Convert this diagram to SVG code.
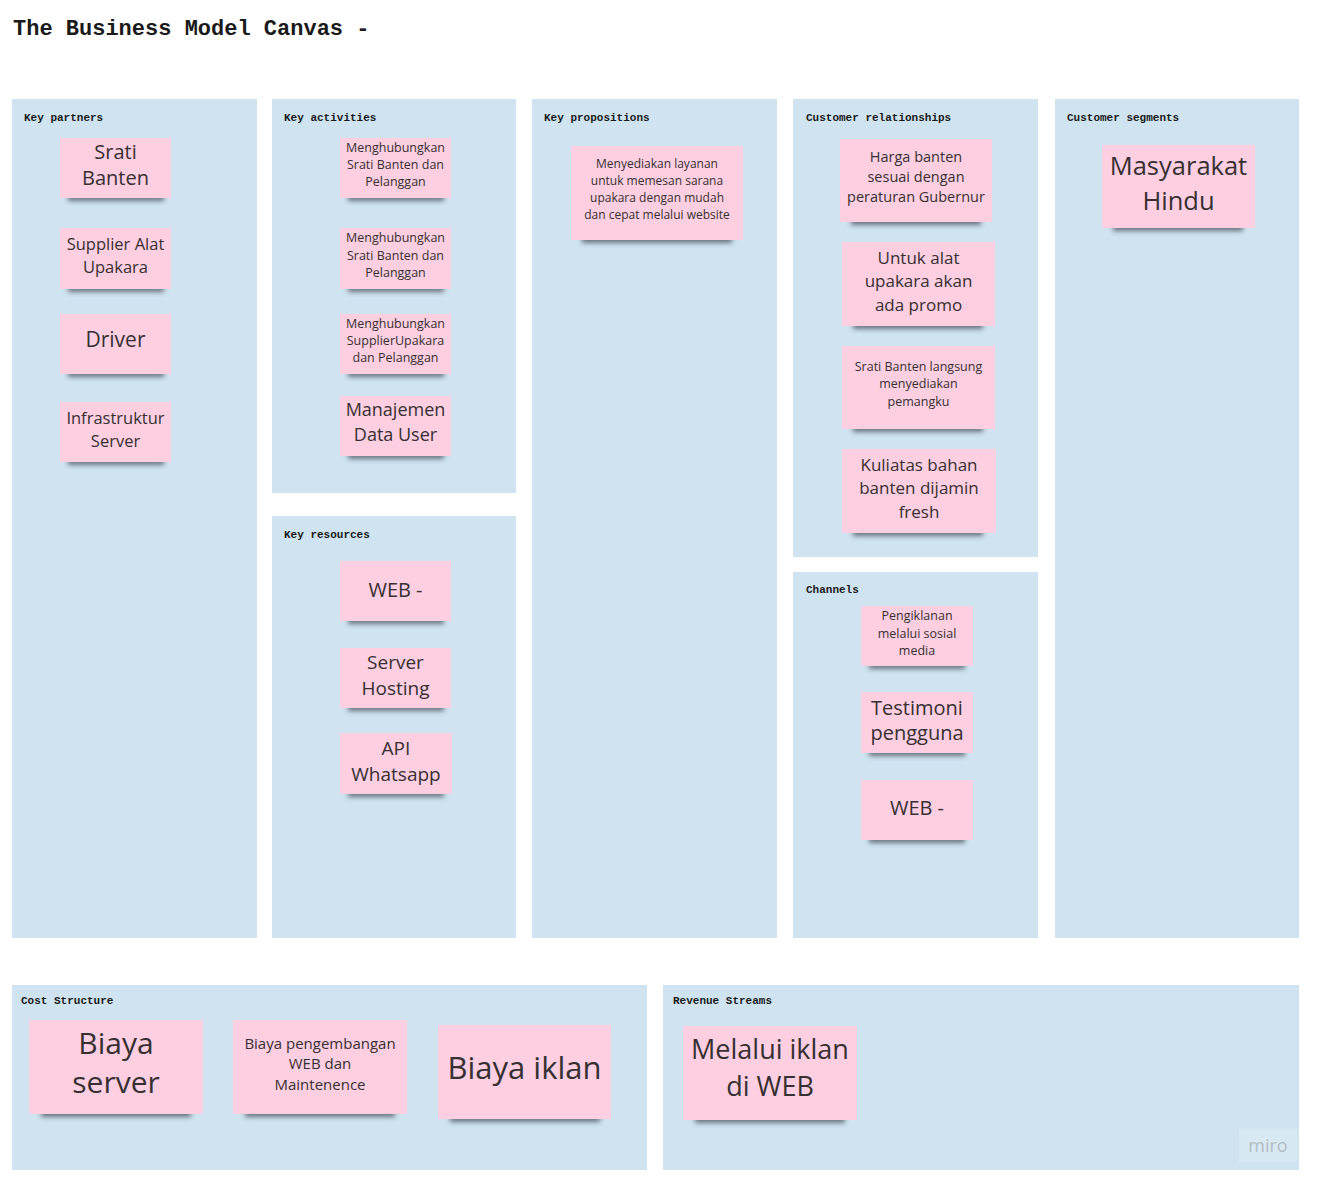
<svg xmlns="http://www.w3.org/2000/svg" width="1321" height="1182" viewBox="0 0 1321 1182">
<defs>
<filter id="sh" x="-20%" y="-200%" width="140%" height="500%"><feGaussianBlur stdDeviation="2.5"/></filter>
<style>
.panel{fill:#cfe4f0}
.lbl{font-family:"Liberation Mono","DejaVu Sans Mono",monospace;font-size:11px;font-weight:bold;fill:#1a1a1a}
.title{font-family:"Liberation Mono","DejaVu Sans Mono",monospace;font-size:22px;font-weight:bold;fill:#1a1a1a}
.note{fill:#fdcfe0}
.shd{fill:#3a4350;opacity:0.7;filter:url(#sh)}
.t{font-family:"Open Sans","Noto Sans",sans-serif;font-weight:400;fill:#353034;text-anchor:middle}
</style>
</defs>
<rect width="1321" height="1182" fill="#ffffff"/>
<text class="title" x="13" y="35">The Business Model Canvas -</text>

<g id="panels">
<g id="key-partners"><rect class="panel" x="12" y="99" width="245" height="839"/><text class="lbl" x="24" y="121">Key partners</text></g>
<g id="key-activities"><rect class="panel" x="272" y="99" width="244" height="394"/><text class="lbl" x="284" y="121">Key activities</text></g>
<g id="key-resources"><rect class="panel" x="272" y="516" width="244" height="422"/><text class="lbl" x="284" y="538">Key resources</text></g>
<g id="key-propositions"><rect class="panel" x="532" y="99" width="245" height="839"/><text class="lbl" x="544" y="121">Key propositions</text></g>
<g id="customer-relationships"><rect class="panel" x="793" y="99" width="245" height="458"/><text class="lbl" x="806" y="121">Customer relationships</text></g>
<g id="channels"><rect class="panel" x="793" y="572" width="245" height="366"/><text class="lbl" x="806" y="593">Channels</text></g>
<g id="customer-segments"><rect class="panel" x="1055" y="99" width="244" height="839"/><text class="lbl" x="1067" y="121">Customer segments</text></g>
<g id="cost-structure"><rect class="panel" x="12" y="985" width="635" height="185"/><text class="lbl" x="21" y="1004">Cost Structure</text></g>
<g id="revenue-streams"><rect class="panel" x="663" y="985" width="636" height="185"/><text class="lbl" x="673" y="1004">Revenue Streams</text></g>
</g>

<g id="connectors"></g>

<!-- Key partners -->
<g id="n-srati"><rect class="shd" x="68" y="194" width="96" height="7"/><rect class="note" x="60" y="138" width="111" height="60"/>
<text class="t" font-size="20"><tspan x="115.5" y="159">Srati</tspan><tspan x="115.5" y="185">Banten</tspan></text></g>
<g id="n-supplier"><rect class="shd" x="68" y="285" width="96" height="7"/><rect class="note" x="60" y="228" width="111" height="61"/>
<text class="t" font-size="16.5"><tspan x="115.5" y="250">Supplier Alat</tspan><tspan x="115.5" y="273">Upakara</tspan></text></g>
<g id="n-driver"><rect class="shd" x="68" y="370" width="96" height="7"/><rect class="note" x="60" y="314" width="111" height="60"/>
<text class="t" font-size="21" x="115.5" y="347">Driver</text></g>
<g id="n-infra"><rect class="shd" x="68" y="458" width="96" height="7"/><rect class="note" x="60" y="402" width="111" height="60"/>
<text class="t" font-size="16.5"><tspan x="115.5" y="424">Infrastruktur</tspan><tspan x="115.5" y="447">Server</tspan></text></g>

<!-- Key activities -->
<g id="n-ka1"><rect class="shd" x="348" y="194" width="96" height="7"/><rect class="note" x="340" y="138" width="111" height="60"/>
<text class="t" font-size="12.5"><tspan x="395.5" y="152">Menghubungkan</tspan><tspan x="395.5" y="169">Srati Banten dan</tspan><tspan x="395.5" y="186">Pelanggan</tspan></text></g>
<g id="n-ka2"><rect class="shd" x="348" y="285" width="96" height="7"/><rect class="note" x="340" y="228" width="111" height="61"/>
<text class="t" font-size="12.5"><tspan x="395.5" y="242">Menghubungkan</tspan><tspan x="395.5" y="260">Srati Banten dan</tspan><tspan x="395.5" y="277">Pelanggan</tspan></text></g>
<g id="n-ka3"><rect class="shd" x="348" y="370" width="96" height="7"/><rect class="note" x="340" y="314" width="111" height="60"/>
<text class="t" font-size="12.5"><tspan x="395.5" y="328">Menghubungkan</tspan><tspan x="395.5" y="345">SupplierUpakara</tspan><tspan x="395.5" y="362">dan Pelanggan</tspan></text></g>
<g id="n-ka4"><rect class="shd" x="348" y="452" width="96" height="7"/><rect class="note" x="340" y="396" width="111" height="60"/>
<text class="t" font-size="18"><tspan x="395.5" y="416">Manajemen</tspan><tspan x="395.5" y="441">Data User</tspan></text></g>

<!-- Key resources -->
<g id="n-kr1"><rect class="shd" x="348" y="617" width="96" height="7"/><rect class="note" x="340" y="561" width="111" height="60"/>
<text class="t" font-size="20" x="395.5" y="597">WEB -</text></g>
<g id="n-kr2"><rect class="shd" x="348" y="704" width="96" height="7"/><rect class="note" x="340" y="648" width="111" height="60"/>
<text class="t" font-size="19"><tspan x="395.5" y="669">Server</tspan><tspan x="395.5" y="695">Hosting</tspan></text></g>
<g id="n-kr3"><rect class="shd" x="348" y="790" width="96" height="7"/><rect class="note" x="340" y="733" width="112" height="61"/>
<text class="t" font-size="19"><tspan x="396" y="755">API</tspan><tspan x="396" y="781">Whatsapp</tspan></text></g>

<!-- Key propositions -->
<g id="n-kp1"><rect class="shd" x="582" y="235" width="150" height="8"/><rect class="note" x="571" y="146" width="172" height="94"/>
<text class="t" font-size="12"><tspan x="657" y="168">Menyediakan layanan</tspan><tspan x="657" y="185">untuk memesan sarana</tspan><tspan x="657" y="202">upakara dengan mudah</tspan><tspan x="657" y="219">dan cepat melalui website</tspan></text></g>

<!-- Customer relationships -->
<g id="n-cr1"><rect class="shd" x="851" y="217" width="130" height="8"/><rect class="note" x="840" y="139" width="152" height="83"/>
<text class="t" font-size="14.5"><tspan x="916" y="162">Harga banten</tspan><tspan x="916" y="182">sesuai dengan</tspan><tspan x="916" y="202">peraturan Gubernur</tspan></text></g>
<g id="n-cr2"><rect class="shd" x="853" y="321" width="130" height="8"/><rect class="note" x="842" y="242" width="153" height="84"/>
<text class="t" font-size="17"><tspan x="918.5" y="264">Untuk alat</tspan><tspan x="918.5" y="287">upakara akan</tspan><tspan x="918.5" y="311">ada promo</tspan></text></g>
<g id="n-cr3"><rect class="shd" x="853" y="424" width="130" height="8"/><rect class="note" x="842" y="346" width="153" height="83"/>
<text class="t" font-size="12.5"><tspan x="918.5" y="371">Srati Banten langsung</tspan><tspan x="918.5" y="388">menyediakan</tspan><tspan x="918.5" y="406">pemangku</tspan></text></g>
<g id="n-cr4"><rect class="shd" x="853" y="528" width="130" height="8"/><rect class="note" x="842" y="449" width="154" height="84"/>
<text class="t" font-size="17"><tspan x="919" y="471">Kuliatas bahan</tspan><tspan x="919" y="494">banten dijamin</tspan><tspan x="919" y="518">fresh</tspan></text></g>

<!-- Channels -->
<g id="n-ch1"><rect class="shd" x="869" y="662" width="96" height="7"/><rect class="note" x="861" y="606" width="112" height="60"/>
<text class="t" font-size="12.5"><tspan x="917" y="620">Pengiklanan</tspan><tspan x="917" y="638">melalui sosial</tspan><tspan x="917" y="655">media</tspan></text></g>
<g id="n-ch2"><rect class="shd" x="869" y="749" width="96" height="7"/><rect class="note" x="861" y="692" width="112" height="61"/>
<text class="t" font-size="20"><tspan x="917" y="715">Testimoni</tspan><tspan x="917" y="740">pengguna</tspan></text></g>
<g id="n-ch3"><rect class="shd" x="869" y="836" width="96" height="7"/><rect class="note" x="861" y="780" width="112" height="60"/>
<text class="t" font-size="20" x="917" y="815">WEB -</text></g>

<!-- Customer segments -->
<g id="n-cs1"><rect class="shd" x="1113" y="223" width="130" height="8"/><rect class="note" x="1102" y="145" width="153" height="83"/>
<text class="t" font-size="25.5"><tspan x="1178.5" y="175">Masyarakat</tspan><tspan x="1178.5" y="210">Hindu</tspan></text></g>

<!-- Cost structure -->
<g id="n-co1"><rect class="shd" x="41" y="1109" width="150" height="8"/><rect class="note" x="29" y="1020" width="174" height="94"/>
<text class="t" font-size="30"><tspan x="116" y="1054">Biaya</tspan><tspan x="116" y="1093">server</tspan></text></g>
<g id="n-co2"><rect class="shd" x="245" y="1109" width="150" height="8"/><rect class="note" x="233" y="1020" width="174" height="94"/>
<text class="t" font-size="15"><tspan x="320" y="1049">Biaya pengembangan</tspan><tspan x="320" y="1069">WEB dan</tspan><tspan x="320" y="1090">Maintenence</tspan></text></g>
<g id="n-co3"><rect class="shd" x="450" y="1114" width="150" height="8"/><rect class="note" x="438" y="1025" width="173" height="94"/>
<text class="t" font-size="31" x="524.5" y="1079">Biaya iklan</text></g>

<!-- Revenue -->
<g id="n-rs1"><rect class="shd" x="695" y="1115" width="150" height="8"/><rect class="note" x="683" y="1026" width="174" height="94"/>
<text class="t" font-size="27"><tspan x="770" y="1059">Melalui iklan</tspan><tspan x="770" y="1096">di WEB</tspan></text></g>

<g id="miro"><rect x="1239" y="1129" width="58" height="33" fill="#d8e9f3"/>
<text x="1268" y="1152" font-family="Open Sans,sans-serif" font-size="18" fill="#b3bcc4" text-anchor="middle">miro</text></g>
</svg>
